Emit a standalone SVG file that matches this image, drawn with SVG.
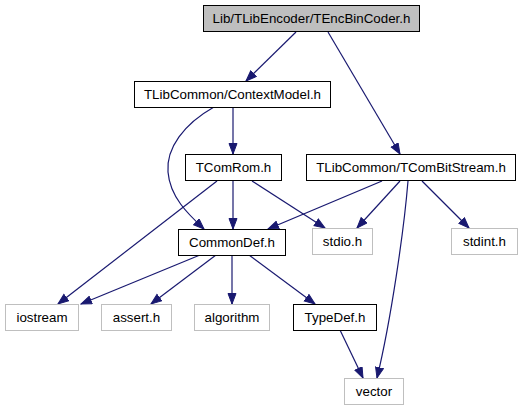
<svg xmlns="http://www.w3.org/2000/svg" width="523" height="411" viewBox="0 0 523 411">
<style>
text{font-family:"Liberation Sans",Arial,sans-serif;font-size:13.33px;text-anchor:middle;fill:#000}
.n rect{fill:#fff;stroke:#000;stroke-width:1}
.g rect{fill:#fff;stroke:#bfbfbf;stroke-width:1}
.e path{fill:none;stroke:#191970;stroke-width:1.2}
</style>
<defs>
<marker id="a" markerUnits="userSpaceOnUse" markerWidth="12" markerHeight="10" refX="11" refY="4.5" orient="auto">
<path d="M0.5,0.5 L11,4.5 L0.5,8.5 z" fill="#191970" stroke="#191970"/>
</marker>
</defs>
<rect width="523" height="411" fill="#fff"/>
<g class="e">
<path d="M296,32 L246,81" marker-end="url(#a)"/>
<path d="M328,32 L400,154" marker-end="url(#a)"/>
<path d="M233,107 L233,154" marker-end="url(#a)"/>
<path d="M214,107 C184,124 166,148 168,172 C170,197 188,214 204,229" marker-end="url(#a)"/>
<path d="M233,181 L233,229" marker-end="url(#a)"/>
<path d="M217,181 L58,304" marker-end="url(#a)"/>
<path d="M252,181 L325,228" marker-end="url(#a)"/>
<path d="M382,181 L268,229" marker-end="url(#a)"/>
<path d="M400,181 L357,228" marker-end="url(#a)"/>
<path d="M422,181 L469,228" marker-end="url(#a)"/>
<path d="M408,181 C404,230 391,320 377,378" marker-end="url(#a)"/>
<path d="M200,255 L81,304" marker-end="url(#a)"/>
<path d="M216,255 L151,304" marker-end="url(#a)"/>
<path d="M232,255 L232,304" marker-end="url(#a)"/>
<path d="M249,255 L315,304" marker-end="url(#a)"/>
<path d="M340,330 L363,378" marker-end="url(#a)"/>
</g>
<g id="n0" class="n"><rect x="203.5" y="5.5" width="216" height="26" style="fill:#bfbfbf"/><text x="311.5" y="23">Lib/TLibEncoder/TEncBinCoder.h</text></g>
<g id="n1" class="n"><rect x="134.5" y="81.5" width="196" height="26"/><text x="232.5" y="99">TLibCommon/ContextModel.h</text></g>
<g id="n2" class="n"><rect x="185.5" y="154.5" width="96" height="26"/><text x="233.5" y="172">TComRom.h</text></g>
<g id="n3" class="n"><rect x="306.5" y="154.5" width="209" height="26"/><text x="411" y="172">TLibCommon/TComBitStream.h</text></g>
<g id="n4" class="n"><rect x="178.5" y="229.5" width="107" height="26"/><text x="232" y="247">CommonDef.h</text></g>
<g id="n5" class="g"><rect x="312.5" y="228.5" width="60" height="26"/><text x="342.5" y="246">stdio.h</text></g>
<g id="n6" class="g"><rect x="451.5" y="228.5" width="66" height="26"/><text x="484.5" y="246">stdint.h</text></g>
<g id="n7" class="g"><rect x="5.5" y="304.5" width="73" height="26"/><text x="42" y="322">iostream</text></g>
<g id="n8" class="g"><rect x="101.5" y="304.5" width="70" height="26"/><text x="136.5" y="322">assert.h</text></g>
<g id="n9" class="g"><rect x="194.5" y="304.5" width="75" height="26"/><text x="232" y="322">algorithm</text></g>
<g id="n10" class="n"><rect x="293.5" y="304.5" width="83" height="26"/><text x="335" y="322">TypeDef.h</text></g>
<g id="n11" class="g"><rect x="344.5" y="378.5" width="59" height="26"/><text x="374" y="396">vector</text></g>
</svg>
